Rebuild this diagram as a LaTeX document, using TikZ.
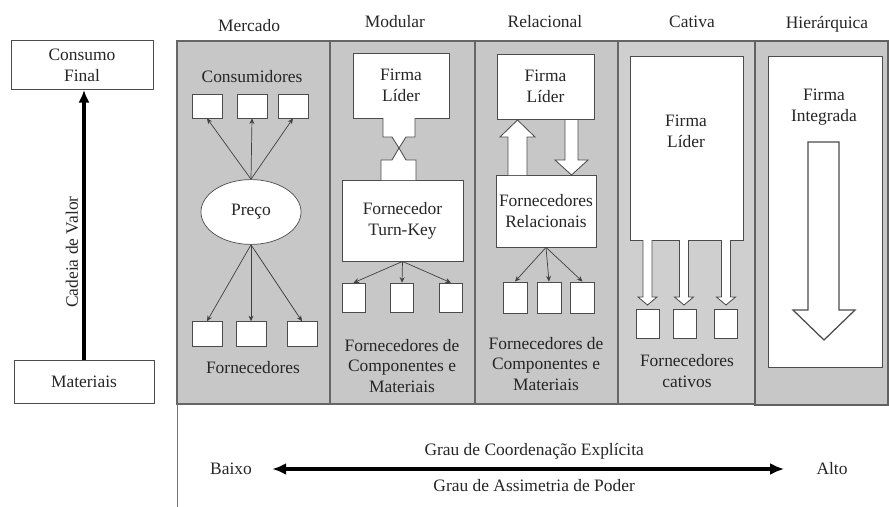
\documentclass[tikz,border=0pt]{standalone}
\usepackage{fontspec}
\setmainfont{Liberation Serif}
\usetikzlibrary{arrows.meta, positioning, shapes.geometric, calc}

\begin{document}
\begin{tikzpicture}[x=0.025cm, y=-0.025cm, font=\fontsize{12.4}{14.9}\selectfont, text=black!85,
    coluna/.style={draw=black!60, line width=0.8pt, fill=black!22},
    caixa/.style={draw=black!70, fill=white, line width=0.5pt, inner sep=0pt, align=center},
    mini/.style={caixa, minimum width=0.6cm, minimum height=0.72cm},
    seta/.style={-{Stealth[length=4pt,width=3.5pt]}, draw=black!75, line width=0.5pt},
    bloco/.style={draw=black!70, fill=white, line width=0.6pt, line join=miter},
    rotulo/.style={align=center, inner sep=0pt}]
    \useasboundingbox (0,0) rectangle (889,507);

    % cadeia de valor
    \node[caixa, minimum width=3.55cm, minimum height=1.23cm] (consumo) at (82,65) {Consumo\\Final};
    \node[caixa, minimum width=3.5cm, minimum height=1.08cm] (materiais) at (84,382) {Materiais};
    \draw[line width=2.4pt, -{Latex[length=9pt,width=8pt]}] (materiais.north) -- (materiais.north |- consumo.south)
        node[pos=0.4, sloped, above=3pt, rotulo] {Cadeia de Valor};

    % colunas
    \draw[coluna] (177,41) rectangle (330,404);
    \draw[coluna] (330,41) rectangle (475,404);
    \draw[coluna] (475,41) rectangle (618,404);
    \draw[coluna, fill=black!19] (618,41) rectangle (755,404);
    \draw[coluna, line width=1.3pt, draw=black!62] (755,41) rectangle (888,405);
    \draw[black!55] (177,404) -- (177,507);

    \node[rotulo] (mercado) at (249,26) {Mercado};
    \node[rotulo] (modular) at (395,22) {Modular};
    \node[rotulo] (relacional) at (545,22) {Relacional};
    \node[rotulo] (cativa) at (692,22) {Cativa};
    \node[rotulo] (hierarquica) at (827,24) {Hierárquica};

    % mercado
    \node[rotulo] (consumidores) at (252,77) {Consumidores};
    \foreach \x [count=\i] in {207,252,293}
        \node[mini, minimum width=0.75cm, minimum height=0.6cm] (cons\i) at (\x,106) {};
    \node[caixa, ellipse, minimum width=2.5cm, minimum height=1.62cm] (preco) at (251,212) {Preço};
    \foreach \x [count=\i] in {207,251,302}
        \node[mini, minimum width=0.75cm, minimum height=0.62cm] (fornM\i) at (\x,334) {};
    \node[rotulo] (fornecedores) at (253,368) {Fornecedores};
    \foreach \i in {1,2,3} {
        \draw[seta] (preco.north) -- (cons\i.south);
        \draw[seta] (preco.south) -- (fornM\i.north);
    }

    % modular
    \node[caixa, minimum width=2.4cm, minimum height=1.62cm] (liderM) at (401,85.5) {Firma\\Líder};
    \node[caixa, minimum width=3.03cm, minimum height=2.03cm] (turnkey) at (402.5,220.5) {Fornecedor\\Turn-Key};
    \draw[bloco] (383,118) -- (383,137) -- (392,137) -- (399,148) -- (406,137) -- (415,137) -- (415,118);
    \draw[bloco] (381,180) -- (381,160) -- (392,160) -- (399,148) -- (406,160) -- (416,160) -- (416,180);
    \foreach \x [count=\i] in {353.5,402,451}
        \node[mini, minimum width=0.58cm, minimum height=0.72cm] (fornT\i) at (\x,297.5) {};
    \foreach \i in {1,2,3}
        \draw[seta] (turnkey.south) -- (fornT\i.north);
    \node[rotulo] (compM) at (402,366) {Fornecedores de\\Componentes e\\Materiais};

    % relacional
    \node[caixa, minimum width=2.43cm, minimum height=1.63cm] (liderR) at (545.5,86.5) {Firma\\Líder};
    \node[caixa, minimum width=2.5cm, minimum height=1.8cm] (relacionais) at (546,211) {Fornecedores\\Relacionais};
    \draw[bloco] (508,175) -- (508,137) -- (500,137) -- (517.5,120) -- (535,137) -- (527,137) -- (527,175);
    \draw[bloco] (565,120) -- (565,160) -- (555,160) -- (571.5,175) -- (588,160) -- (578,160) -- (578,120);
    \foreach \x [count=\i] in {515,549,582.5}
        \node[mini, minimum width=0.6cm, minimum height=0.78cm] (fornR\i) at (\x,297.5) {};
    \foreach \i in {1,2,3}
        \draw[seta] (relacionais.south) -- (fornR\i.north);
    \node[rotulo] (compR) at (546,364) {Fornecedores de\\Componentes e\\Materiais};

    % cativa
    \node[caixa, minimum width=2.83cm, minimum height=4.6cm] (liderC) at (686.5,148) {};
    \node[rotulo] at (686,131) {Firma\\Líder};
    \foreach \x in {647.5,684,726}
        \draw[bloco] (\x-4.5,240) -- (\x-4.5,297) -- (\x-9.5,297) -- (\x,305) -- (\x+9.5,297) -- (\x+4.5,297) -- (\x+4.5,240);
    \foreach \x [count=\i] in {647.5,685,725.5}
        \node[mini, minimum width=0.58cm, minimum height=0.72cm] (fornC\i) at (\x,323.5) {};
    \node[rotulo] (cativos) at (687,371) {Fornecedores\\cativos};

    % hierarquica
    \node[caixa, minimum width=2.85cm, minimum height=7.78cm] (integrada) at (825,211.5) {};
    \node[rotulo] at (824,107) {Firma\\Integrada};
    \draw[bloco, line width=0.9pt] (808,142) -- (808,310) -- (793,310) -- (824,340) -- (855,310) -- (839,310) -- (839,142) -- cycle;

    % grau de coordenacao
    \node[rotulo] (baixo) at (231,469) {Baixo};
    \node[rotulo] (alto) at (832,469) {Alto};
    \draw[line width=2.2pt, {Latex[length=10pt,width=8.5pt]}-{Latex[length=10pt,width=8.5pt]}, shorten <=0.5cm, shorten >=0.8cm]
        (baixo.east) -- (alto.west)
        node[midway, above=6pt, rotulo] {Grau de Coordenação Explícita}
        node[midway, below=6pt, rotulo] {Grau de Assimetria de Poder};
\end{tikzpicture}
\end{document}
